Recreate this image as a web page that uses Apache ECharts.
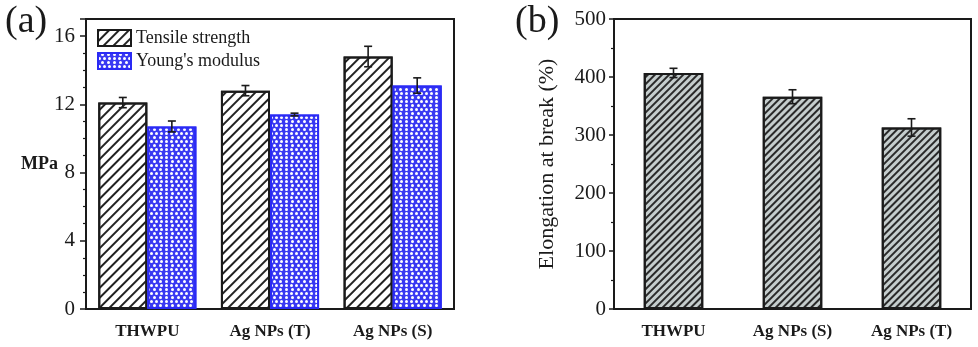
<!DOCTYPE html>
<html>
<head>
<meta charset="utf-8">
<script src="https://cdn.jsdelivr.net/npm/echarts@6/dist/echarts.min.js"></script>
<style>html,body{margin:0;padding:0;background:#fff}#c{width:978px;height:347px}</style>
</head>
<body>
<div id="c"></div>
<script>
// ---- data ----
const catsA = ['THWPU', 'Ag NPs (T)', 'Ag NPs (S)'];
const tensile = [12.1, 12.8, 14.8];
const tensileErr = [0.3, 0.3, 0.6];
const young = [10.7, 11.4, 13.1];
const youngErr = [0.32, 0.08, 0.45];
const ticksA = [0, 4, 8, 12, 16];

const catsB = ['THWPU', 'Ag NPs (S)', 'Ag NPs (T)'];
const elong = [407, 366, 313];
const elongErr = [8, 12, 15];
const ticksB = [0, 100, 200, 300, 400, 500];

const FONT = 'Liberation Serif';
const INK = '#1a1a1a';

function errSeries(name, xi, yi, vals, errs, offsetFrac) {
  return {
    type: 'custom', name: name, xAxisIndex: xi, yAxisIndex: yi, z: 10, silent: true,
    data: vals.map((v, i) => [i, v, errs[i]]),
    renderItem: function (params, api) {
      const i = api.value(0), v = api.value(1), e = api.value(2);
      const band = api.size([1, 0])[0];
      const p = api.coord([i, v]);
      const cx = p[0] + offsetFrac * band;
      const t = api.coord([i, v + e])[1];
      const b = api.coord([i, v - e])[1];
      const cap = 4;
      const st = { stroke: INK, lineWidth: 1.6 };
      return {
        type: 'group', children: [
          { type: 'line', shape: { x1: cx, y1: t, x2: cx, y2: b }, style: st },
          { type: 'line', shape: { x1: cx - cap, y1: t, x2: cx + cap, y2: t }, style: st },
          { type: 'line', shape: { x1: cx - cap, y1: b, x2: cx + cap, y2: b }, style: st }
        ]
      };
    }
  };
}

const axisText = { fontFamily: FONT, color: INK };

const option = {
  animation: false,
  backgroundColor: '#fff',
  title: [
    { text: '(a)', left: 0, top: -2, textStyle: { fontFamily: FONT, fontSize: 38, fontWeight: 'normal', color: INK } },
    { text: '(b)', left: 510, top: -2, textStyle: { fontFamily: FONT, fontSize: 38, fontWeight: 'normal', color: INK } }
  ],
  legend: {
    orient: 'vertical', left: 92, top: 24, itemWidth: 33, itemHeight: 16, itemGap: 5, icon: 'rect',
    data: ['Tensile strength', "Young's modulus"],
    textStyle: { fontFamily: FONT, fontSize: 18, color: INK }
  },
  grid: [
    { left: 86, top: 19, width: 368, height: 290, show: true, borderColor: INK, borderWidth: 2, backgroundColor: 'transparent' },
    { left: 614, top: 19, width: 357, height: 290, show: true, borderColor: INK, borderWidth: 2, backgroundColor: 'transparent' }
  ],
  xAxis: [
    { type: 'category', gridIndex: 0, data: catsA, axisTick: { show: false },
      axisLine: { lineStyle: { color: INK, width: 2 } },
      axisLabel: Object.assign({ fontSize: 17, fontWeight: 'bold', margin: 14 }, axisText) },
    { type: 'category', gridIndex: 1, data: catsB, axisTick: { show: false },
      axisLine: { lineStyle: { color: INK, width: 2 } },
      axisLabel: Object.assign({ fontSize: 17, fontWeight: 'bold', margin: 14 }, axisText) }
  ],
  yAxis: [
    { type: 'value', gridIndex: 0, min: ticksA[0], max: 17, interval: ticksA[1] - ticksA[0],
      name: 'MPa', nameLocation: 'middle', nameRotate: 0, nameGap: 28, nameMoveOverlap: false,
      nameTextStyle: { fontFamily: FONT, fontSize: 18, fontWeight: 'bold', color: INK, padding: [0, 0, 12, 0] },
      axisLine: { show: true, lineStyle: { color: INK, width: 2 } },
      axisTick: { show: true, inside: false, length: 6, lineStyle: { color: INK, width: 1.5 } },
      minorTick: { show: true, splitNumber: 4, length: 3, lineStyle: { color: INK, width: 1.2 } },
      splitLine: { show: false },
      axisLabel: Object.assign({ fontSize: 21, margin: 11, showMaxLabel: false,
        formatter: v => ticksA.indexOf(v) >= 0 ? String(v) : '' }, axisText) },
    { type: 'value', gridIndex: 1, min: ticksB[0], max: ticksB[ticksB.length - 1], interval: ticksB[1] - ticksB[0],
      name: 'Elongation at break (%)', nameLocation: 'middle', nameGap: 56,
      nameTextStyle: { fontFamily: FONT, fontSize: 22, color: INK },
      axisLine: { show: true, lineStyle: { color: INK, width: 2 } },
      axisTick: { show: true, inside: false, length: 5, lineStyle: { color: INK, width: 1.5 } },
      minorTick: { show: true, splitNumber: 2, length: 3, lineStyle: { color: INK, width: 1.2 } },
      splitLine: { show: false },
      axisLabel: Object.assign({ fontSize: 21, margin: 8 }, axisText) }
  ],
  series: [
    { type: 'bar', name: 'Tensile strength', xAxisIndex: 0, yAxisIndex: 0, data: tensile,
      barWidth: '40%', barGap: '0%',
      itemStyle: { color: '#ffffff', borderColor: INK, borderWidth: 2,
        decal: { color: '#222', dashArrayX: [1, 0], dashArrayY: [1.6, 4.4], rotation: -Math.PI / 4 } } },
    { type: 'bar', name: "Young's modulus", xAxisIndex: 0, yAxisIndex: 0, data: young,
      barWidth: '40%', barGap: '0%',
      itemStyle: { color: '#3a3af2', borderColor: '#2a2af5', borderWidth: 2,
        decal: { symbol: 'circle', symbolSize: 1, color: '#ffffff', dashArrayX: [[3, 2], [0, 2.5, 3, -0.5]], dashArrayY: [3, 0.5] } } },
    errSeries('errT', 0, 0, tensile, tensileErr, -0.2),
    errSeries('errY', 0, 0, young, youngErr, 0.2),
    { type: 'bar', name: 'Elongation', xAxisIndex: 1, yAxisIndex: 1, data: elong,
      barWidth: '50%',
      itemStyle: { color: '#c5cdcd', borderColor: INK, borderWidth: 2,
        decal: { color: '#2a2a2a', dashArrayX: [1, 0], dashArrayY: [1.3, 2.2], rotation: -Math.PI / 4 } } },
    errSeries('errE', 1, 1, elong, elongErr, 0)
  ]
};

const chart = echarts.init(document.getElementById('c'), null, { renderer: 'canvas' });
chart.setOption(option);
</script>
</body>
</html>
